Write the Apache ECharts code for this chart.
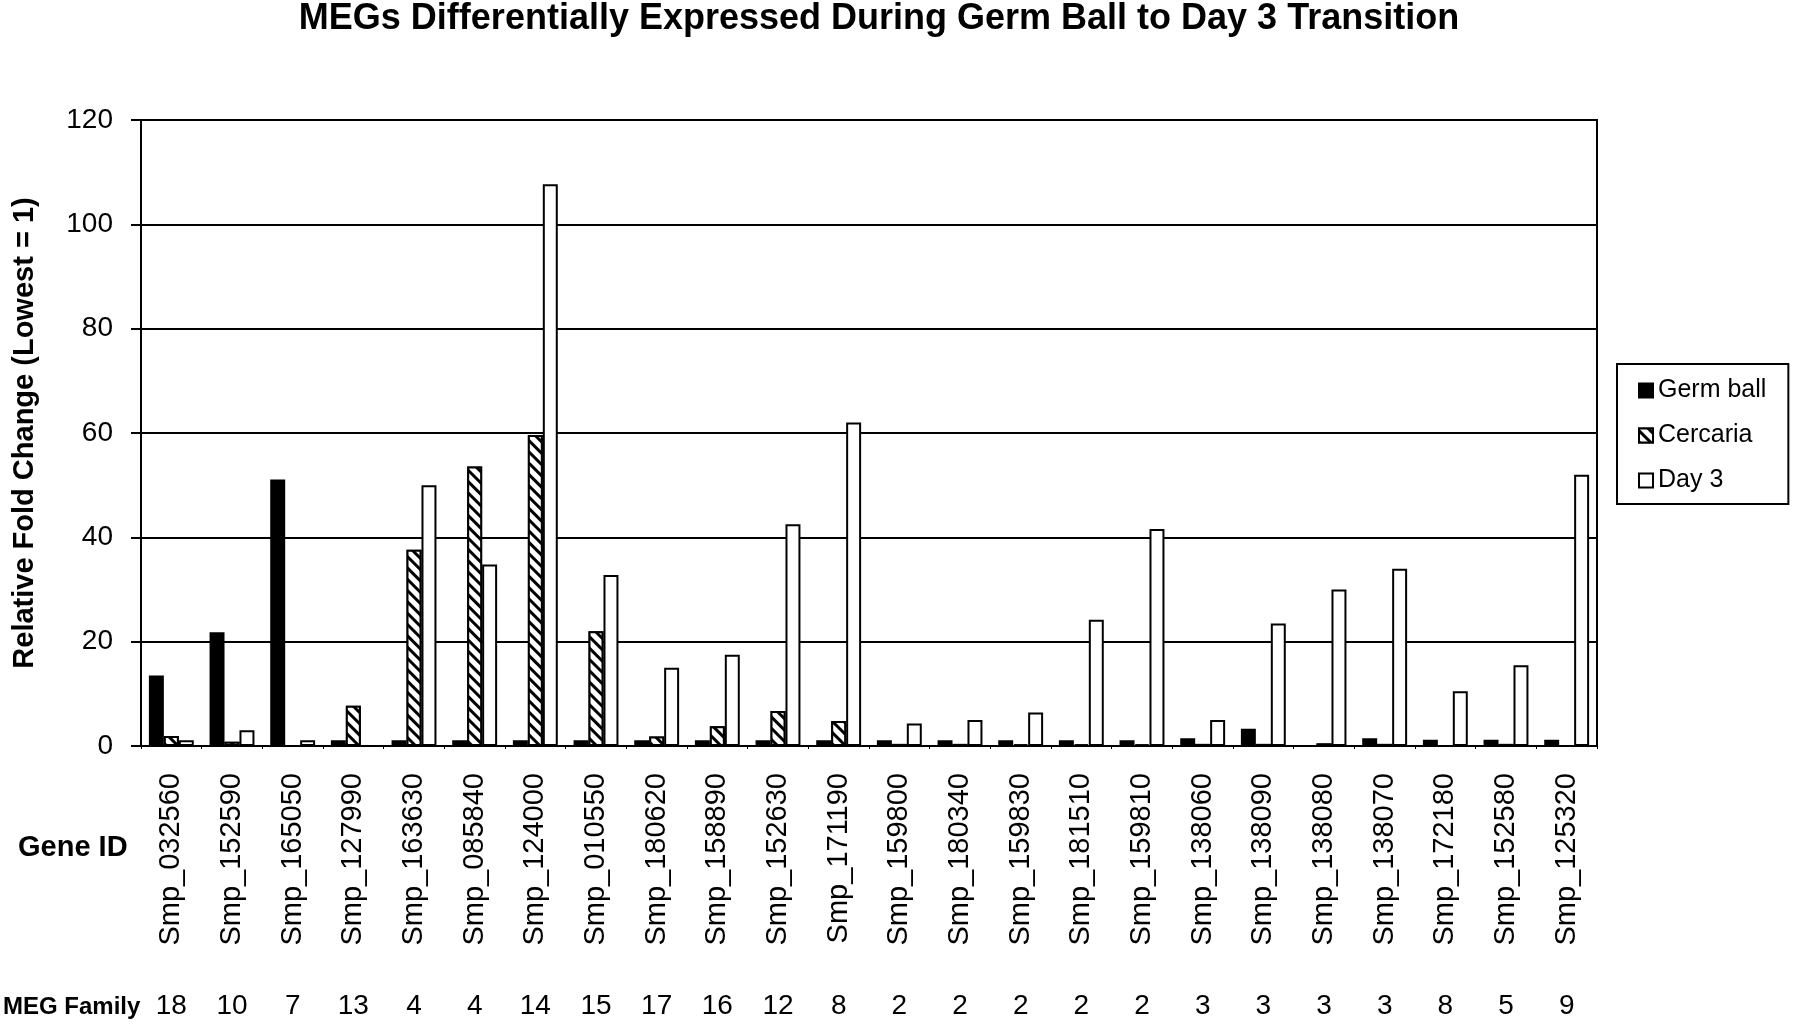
<!DOCTYPE html>
<html>
<head>
<meta charset="utf-8">
<script src="https://cdn.jsdelivr.net/npm/echarts@6/dist/echarts.min.js"></script>
<style>
html,body{margin:0;padding:0;background:#fff;}
#chart{width:1800px;height:1026px;}
</style>
</head>
<body>
<div id="chart"></div>
<script>
const categories = ['Smp_032560','Smp_152590','Smp_165050','Smp_127990','Smp_163630','Smp_085840','Smp_124000','Smp_010550','Smp_180620','Smp_158890','Smp_152630','Smp_171190','Smp_159800','Smp_180340','Smp_159830','Smp_181510','Smp_159810','Smp_138060','Smp_138090','Smp_138080','Smp_138070','Smp_172180','Smp_152580','Smp_125320'];
const megFamily = ['18','10','7','13','4','4','14','15','17','16','12','8','2','2','2','2','2','3','3','3','3','8','5','9'];
const germBall = [13.5,21.8,51.1,1.1,1.1,1.1,1.1,1.1,1.1,1.1,1.1,1.1,1.1,1.1,1.1,1.1,1.1,1.5,3.3,0,1.5,1.2,1.2,1.2];
const cercaria = [1.9,0.8,0,7.7,37.6,53.6,59.6,22.0,1.8,3.8,6.7,4.8,0.4,0.4,0.3,0.3,0.3,0.4,0.4,0.5,0.4,0,0.4,0];
const day3 = [1.1,3.0,1.1,0,50.0,34.8,107.7,32.8,15.0,17.5,42.5,62.0,4.3,5.0,6.4,24.2,41.6,5.0,23.5,30.0,34.0,10.5,15.5,52.0];
const yTicks = [0,20,40,60,80,100,120];

const FONT = '"Liberation Sans", Arial, sans-serif';
const chart = echarts.init(document.getElementById('chart'), null, {renderer:'canvas'});

const hatch = {
  color: '#000',
  backgroundColor: '#fff',
  dashArrayX: [1, 0],
  dashArrayY: [3, 5],
  rotation: Math.PI / 4,
  symbol: 'rect',
  symbolSize: 1
};

chart.setOption({
  backgroundColor: '#fff',
  animation: false,
  textStyle: {fontFamily: FONT, color: '#000'},
  grid: {left: 141, right: 203, top: 120, bottom: 280, show: true, borderColor: '#000', borderWidth: 2, backgroundColor: 'transparent'},
  legend: {
    orient: 'vertical',
    left: 1617, top: 364,
    padding: [14, 22, 11, 21],
    itemGap: 20,
    itemWidth: 14, itemHeight: 14,
    borderColor: '#000', borderWidth: 2,
    icon: 'rect',
    textStyle: {fontFamily: FONT, fontSize: 25, color: '#000'},
    data: ['Germ ball', 'Cercaria', 'Day 3']
  },
  xAxis: [{
    type: 'category',
    data: categories,
    axisLine: {lineStyle: {color: '#000', width: 2}},
    axisTick: {show: true, length: 3, lineStyle: {color: '#000', width: 1}},
    axisLabel: {rotate: 90, margin: 27, fontFamily: FONT, fontSize: 29, color: '#000', interval: 0}
  }, {
    type: 'category',
    data: megFamily,
    position: 'bottom',
    offset: 240,
    axisLine: {show: false},
    axisTick: {show: false},
    axisLabel: {margin: 6, fontFamily: FONT, fontSize: 28, color: '#000', interval: 0}
  }],
  yAxis: {
    type: 'value',
    min: 0, max: 120, interval: 20,
    axisLine: {show: true, lineStyle: {color: '#000', width: 2}},
    axisTick: {show: true, length: 10, lineStyle: {color: '#000', width: 2}},
    axisLabel: {margin: 28, fontFamily: FONT, fontSize: 28, color: '#000',
      formatter: v => yTicks.indexOf(v) >= 0 ? String(v) : ''},
    splitLine: {show: true, lineStyle: {color: '#000', width: 2}}
  },
  series: [{
    name: 'Germ ball', type: 'bar', data: germBall, xAxisIndex: 0,
    barGap: '0%', barCategoryGap: '26%',
    itemStyle: {color: '#000', borderColor: '#000', borderWidth: 2}
  }, {
    name: 'Cercaria', type: 'bar', data: cercaria, xAxisIndex: 0,
    barGap: '0%', barCategoryGap: '26%',
    itemStyle: {color: '#fff', borderColor: '#000', borderWidth: 2, decal: hatch}
  }, {
    name: 'Day 3', type: 'bar', data: day3, xAxisIndex: 0,
    barGap: '0%', barCategoryGap: '26%',
    itemStyle: {color: '#fff', borderColor: '#000', borderWidth: 2}
  }],
  graphic: [{
    type: 'text', x: 879, y: 19,
    style: {text: 'MEGs Differentially Expressed During Germ Ball to Day 3 Transition',
      font: 'bold 36px ' + FONT, fill: '#000', textAlign: 'center', textVerticalAlign: 'middle'}
  }, {
    type: 'text', x: 25, y: 433, rotation: Math.PI / 2,
    style: {text: 'Relative Fold Change (Lowest = 1)',
      font: 'bold 29px ' + FONT, fill: '#000', textAlign: 'center', textVerticalAlign: 'middle'}
  }, {
    type: 'text', x: 18, y: 848,
    style: {text: 'Gene ID', font: 'bold 29px ' + FONT, fill: '#000', textAlign: 'left', textVerticalAlign: 'middle'}
  }, {
    type: 'text', x: 3, y: 1007,
    style: {text: 'MEG Family', font: 'bold 24px ' + FONT, fill: '#000', textAlign: 'left', textVerticalAlign: 'middle'}
  }]
});
</script>
</body>
</html>
